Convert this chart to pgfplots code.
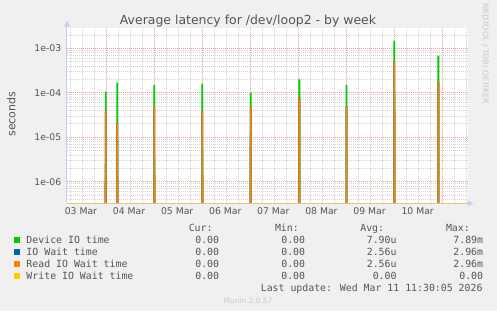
\documentclass[border=0pt]{standalone}
\usepackage{pgfplots}
\pgfplotsset{compat=1.18}
\usepackage{fontspec}
\setmainfont{DejaVu Sans}
\newfontfamily\mono{DejaVu Sans Mono}
\definecolor{bg}{HTML}{F0F0F0}
\definecolor{txt}{HTML}{555555}
\definecolor{mgrid}{RGB}{238,160,160}
\definecolor{gridc}{RGB}{212,212,212}
\definecolor{devc}{HTML}{00CC00}
\definecolor{ioc}{HTML}{0066B3}
\definecolor{rdc}{HTML}{FF8000}
\definecolor{wrc}{HTML}{FFCC00}
\definecolor{axc}{RGB}{200,204,245}
\definecolor{baseln}{RGB}{228,200,120}
\definecolor{faint}{RGB}{200,200,200}
\begin{document}
\begin{tikzpicture}[x=1bp,y=1bp]
\fill[bg] (0,0) rectangle (497,311);
\fill[white] (66.7,107.7) rectangle (467.7,283.3);
\begin{axis}[at={(66.7bp,107.7bp)}, anchor=south west, scale only axis,
  width=401bp, height=175.6bp,
  xmin=0.183, xmax=8.52, ymode=log, ymin=3.27e-7, ymax=2.9e-3,
  axis line style={draw=none},
  xtick={1,2,3,4,5,6,7,8}, xticklabels={},
  minor xtick={0.25,0.5,0.75,1.25,1.5,1.75,2.25,2.5,2.75,3.25,3.5,3.75,4.25,4.5,4.75,5.25,5.5,5.75,6.25,6.5,6.75,7.25,7.5,7.75,8.25,8.5},
  ytick={1e-6,1e-5,1e-4,1e-3}, yticklabels={1e-06,1e-05,1e-04,1e-03},
  minor ytick={4e-7,5e-7,6e-7,7e-7,8e-7,9e-7,2e-6,3e-6,4e-6,5e-6,6e-6,7e-6,8e-6,9e-6,2e-5,3e-5,4e-5,5e-5,6e-5,7e-5,8e-5,9e-5,2e-4,3e-4,4e-4,5e-4,6e-4,7e-4,8e-4,9e-4,2e-3},
  major tick length=0, minor tick length=0,
  grid=both,
  major grid style={mgrid, dash pattern=on 1bp off 1bp, line width=0.7bp},
  minor grid style={gridc, dash pattern=on 1bp off 1bp, line width=0.7bp},
  extra x ticks={0.5,1.5,2.5,3.5,4.5,5.5,6.5,7.5},
  extra x tick labels={03 Mar,04 Mar,05 Mar,06 Mar,07 Mar,08 Mar,09 Mar,10 Mar},
  extra x tick style={grid=none, major tick length=0},
  tick label style={font=\fontsize{9.3}{11}\selectfont, text=txt},
  xticklabel style={yshift=-1bp, xshift=-1bp},
  yticklabel style={xshift=-2bp},
]
% Device IO time
\addplot[devc, line width=1.8bp, mark=none] coordinates {
(0.2,1e-30) (0.974,1e-30) (0.994,1.06e-4) (1.014,1e-30)
(1.215,1e-30) (1.235,1.69e-4) (1.255,1e-30)
(1.984,1e-30) (2.004,1.50e-4) (2.024,1e-30)
(2.982,1e-30) (3.002,1.60e-4) (3.022,1e-30)
(3.988,1e-30) (4.008,9.9e-5) (4.028,1e-30)
(5.0,1e-30) (5.02,2.01e-4) (5.04,1e-30)
(5.98,1e-30) (6.0,1.50e-4) (6.02,1e-30)
(6.974,1e-30) (6.994,1.46e-3) (7.014,1e-30)
(7.89,1e-30) (7.91,6.82e-4) (7.93,1e-30) (8.5,1e-30)};
% IO Wait time
\addplot[ioc, line width=1.8bp, mark=none] coordinates {
(0.2,1e-30) (0.974,1e-30) (0.994,3.96e-5) (1.014,1e-30)
(1.215,1e-30) (1.235,2.06e-5) (1.255,1e-30)
(1.984,1e-30) (2.004,5.05e-5) (2.024,1e-30)
(2.982,1e-30) (3.002,3.96e-5) (3.022,1e-30)
(3.988,1e-30) (4.008,5.05e-5) (4.028,1e-30)
(5.0,1e-30) (5.02,7.76e-5) (5.04,1e-30)
(5.98,1e-30) (6.0,5.05e-5) (6.02,1e-30)
(6.974,1e-30) (6.994,5.1e-4) (7.014,1e-30)
(7.89,1e-30) (7.91,1.78e-4) (7.93,1e-30) (8.5,1e-30)};
% Read IO Wait time
\addplot[rdc, line width=1.8bp, mark=none] coordinates {
(0.2,1e-30) (0.974,1e-30) (0.994,3.96e-5) (1.014,1e-30)
(1.215,1e-30) (1.235,2.06e-5) (1.255,1e-30)
(1.984,1e-30) (2.004,5.05e-5) (2.024,1e-30)
(2.982,1e-30) (3.002,3.96e-5) (3.022,1e-30)
(3.988,1e-30) (4.008,5.05e-5) (4.028,1e-30)
(5.0,1e-30) (5.02,7.76e-5) (5.04,1e-30)
(5.98,1e-30) (6.0,5.05e-5) (6.02,1e-30)
(6.974,1e-30) (6.994,5.1e-4) (7.014,1e-30)
(7.89,1e-30) (7.91,1.78e-4) (7.93,1e-30) (8.5,1e-30)};
\end{axis}
% axis lines and arrows
\draw[axc, line width=1bp] (66.7,107.7) -- (66.7,285);
\fill[axc] (63.9,284.3) -- (70.1,284.3) -- (67,290) -- cycle;
\fill[axc] (467.7,104.8) -- (467.7,110.6) -- (473.3,107.7) -- cycle;
\draw[baseln, line width=1bp] (66.7,107.7) -- (467.7,107.7);
% title
\node[anchor=base, font=\fontsize{12.5}{14}\selectfont, text=txt] at (248,286.5) {Average latency for /dev/loop2 - by week};
\node[rotate=90, font=\fontsize{11}{13}\selectfont, text=txt] at (11.2,196.8) {seconds};
\node[rotate=-90, font=\fontsize{7.8}{9}\selectfont, text=faint] at (485.5,257.5) {RRDTOOL / TOBI OETIKER};
% legend
\begin{scope}[every node/.style={font=\mono\fontsize{9.9}{12}\selectfont, text=txt, inner sep=0pt}]
\node[anchor=base east] at (212.7,80) {Cur:};
\node[anchor=base east] at (299,80) {Min:};
\node[anchor=base east] at (384.3,80) {Avg:};
\node[anchor=base east] at (470,80) {Max:};
\fill[devc] (14,68) rectangle (20,74);
\fill[ioc] (14,56) rectangle (20,62);
\fill[rdc] (14,44) rectangle (20,50);
\fill[wrc] (14,32) rectangle (20,38);
\node[anchor=base west] at (26.3,68) {Device IO time};
\node[anchor=base west] at (26.3,56) {IO Wait time};
\node[anchor=base west] at (26.3,44) {Read IO Wait time};
\node[anchor=base west] at (26.3,32) {Write IO Wait time};
\foreach \yy/\a/\b/\c/\d in {68/0.00/0.00/7.90u/7.89m, 56/0.00/0.00/2.56u/2.96m, 44/0.00/0.00/2.56u/2.96m, 32/0.00/0.00/0.00/0.00}{
  \node[anchor=base east] at (219.3,\yy) {\a};
  \node[anchor=base east] at (305.3,\yy) {\b};
  \node[anchor=base east] at (396.7,\yy) {\c};
  \node[anchor=base east] at (483.3,\yy) {\d};
}
\node[anchor=base east] at (482.7,20) {Last update: Wed Mar 11 11:30:05 2026};
\end{scope}
\node[anchor=base, font=\fontsize{7.5}{9}\selectfont, text=faint] at (248,8) {Munin 2.0.57};
\useasboundingbox (0,0) rectangle (497,311);
\end{tikzpicture}
\end{document}
